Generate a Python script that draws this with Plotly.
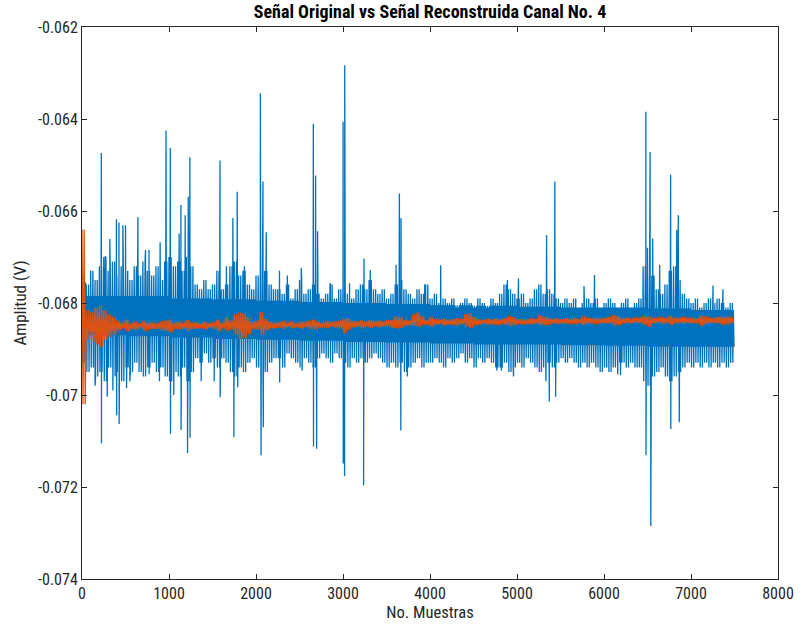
import plotly.graph_objects as go

# ---------------------------------------------------------------------------
# Channel 4: original signal vs reconstructed signal (volts per sample)
# Samples are grouped in blocks of 50; for each block the upper / lower
# extent of the trace is given, plus the isolated spikes of the original.
# ---------------------------------------------------------------------------
BLOCK = 50

# Original signal: upper extent of each 50-sample block
orig_hi = [
    -0.0674, -0.0676, -0.0673, -0.0675,
    -0.0672, -0.0670, -0.0673, -0.0671, -0.0674, -0.0672,
    -0.0673, -0.0675, -0.0672, -0.0674, -0.0671, -0.0673,
    -0.0674, -0.0672, -0.0675, -0.0671,
    -0.0670, -0.0672, -0.0671, -0.0673, -0.0670, -0.0672,
    -0.0676, -0.0677, -0.0675, -0.0677, -0.0676, -0.0673, -0.0677, -0.0676,
    -0.0672, -0.0671, -0.0674, -0.0673, -0.0676,
    -0.0677, -0.0674, -0.0672, -0.0673, -0.0676, -0.0677,
    -0.0677, -0.0678, -0.0676, -0.0679, -0.0677, -0.0675, -0.0678,
    -0.0677, -0.0676, -0.0678, -0.0679,
    -0.0678, -0.0676, -0.0679, -0.0677,
    -0.0676, -0.0678, -0.0679, -0.0677,
    -0.0676, -0.0677, -0.0675, -0.0677,
    -0.0678, -0.0677, -0.0679, -0.0678,
    -0.0676, -0.0675, -0.0677, -0.0678,
    -0.0679, -0.0677, -0.0678, -0.0676,
    -0.0679, -0.0678, -0.0680, -0.0679,
    -0.0680, -0.0679, -0.0681, -0.0680,
    -0.0679, -0.0680, -0.0681, -0.0679,
    -0.0680, -0.0681, -0.0679, -0.0680,
    -0.0678, -0.0676, -0.0677, -0.0678,
    -0.0679, -0.0678, -0.0680, -0.0679,
    -0.0677, -0.0676, -0.0678, -0.0677,
    -0.0678, -0.0679, -0.0680, -0.0679,
    -0.0680, -0.0679, -0.0681, -0.0680,
    -0.0679, -0.0680, -0.0679, -0.0681,
    -0.0680, -0.0679, -0.0680, -0.0681,
    -0.0680, -0.0679, -0.0681, -0.0680,
    -0.0679, -0.0672, -0.0670, -0.0674,
    -0.0677, -0.0678, -0.0676, -0.0673,
    -0.0672, -0.0675, -0.0678, -0.0679,
    -0.0680, -0.0679, -0.0681, -0.0680,
    -0.0679, -0.0680, -0.0679, -0.0680, -0.0681, -0.0680,
]

# Original signal: lower extent of each 50-sample block
orig_lo = [
    -0.0693, -0.0695, -0.0694, -0.0696,
    -0.0695, -0.0697, -0.0694, -0.0696, -0.0695, -0.0697,
    -0.0694, -0.0695, -0.0693, -0.0695, -0.0696, -0.0694,
    -0.0693, -0.0695, -0.0694, -0.0696,
    -0.0697, -0.0695, -0.0696, -0.0694, -0.0697, -0.0695,
    -0.0692, -0.0693, -0.0691, -0.0693, -0.0692, -0.0694, -0.0692, -0.0693,
    -0.0695, -0.0696, -0.0694, -0.0695, -0.0693,
    -0.0692, -0.0694, -0.0696, -0.0695, -0.0693, -0.0692,
    -0.0692, -0.0694, -0.0691, -0.0692, -0.0693, -0.0694, -0.0692,
    -0.0693, -0.0694, -0.0692, -0.0691,
    -0.0692, -0.0693, -0.0691, -0.0692,
    -0.0693, -0.0694, -0.0692, -0.0693,
    -0.0692, -0.0693, -0.0692, -0.0691,
    -0.0692, -0.0693, -0.0694, -0.0693,
    -0.0694, -0.0693, -0.0695, -0.0694,
    -0.0693, -0.0692, -0.0694, -0.0693,
    -0.0693, -0.0692, -0.0693, -0.0694,
    -0.0692, -0.0693, -0.0692, -0.0691,
    -0.0693, -0.0692, -0.0694, -0.0692,
    -0.0693, -0.0692, -0.0693, -0.0694,
    -0.0694, -0.0693, -0.0695, -0.0694,
    -0.0693, -0.0694, -0.0692, -0.0693,
    -0.0694, -0.0695, -0.0694, -0.0693,
    -0.0694, -0.0693, -0.0692, -0.0693,
    -0.0692, -0.0693, -0.0694, -0.0693,
    -0.0694, -0.0693, -0.0694, -0.0695,
    -0.0694, -0.0695, -0.0694, -0.0693,
    -0.0693, -0.0694, -0.0693, -0.0694,
    -0.0694, -0.0697, -0.0698, -0.0696,
    -0.0695, -0.0694, -0.0696, -0.0697,
    -0.0696, -0.0695, -0.0694, -0.0693,
    -0.0694, -0.0693, -0.0694, -0.0693,
    -0.0694, -0.0693, -0.0694, -0.0693, -0.0694, -0.0693,
]

# Dense core of the original signal, one pair per 500 samples
core_hi = [-0.06785, -0.06785, -0.06790, -0.06792, -0.06795, -0.06798, -0.06800,
           -0.06802, -0.06805, -0.06806, -0.06808, -0.06810, -0.06810, -0.06812,
           -0.06815]
core_lo = [-0.06870, -0.06872, -0.06875, -0.06878, -0.06880, -0.06882, -0.06885,
           -0.06886, -0.06888, -0.06890, -0.06890, -0.06892, -0.06893, -0.06895,
           -0.06895]
CORE_BLOCK = 500

# Isolated spikes of the original signal
spike_at = [
    40, 150, 222, 224, 268, 290, 320, 355, 396, 398,
    425, 427, 470, 500, 512, 550, 643, 730, 770, 772,
    890, 898, 966, 1015, 1017, 1055, 1117, 1137, 1139, 1186,
    1213, 1221, 1240, 1242, 1370, 1520, 1586, 1588, 1660, 1734,
    1746, 1784, 1790, 1867, 2050, 2058, 2080, 2084, 2118, 2270,
    2272, 2360, 2520, 2530, 2659, 2661, 2685, 2697, 2708, 2855,
    3001, 3003, 3018, 3020, 3075, 3237, 3241, 3313, 3610, 3648,
    3665, 3667, 3740, 3940, 4123, 4768, 4820, 4890, 4960, 5017,
    5333, 5340, 5371, 5435, 5444, 5770, 5891, 6158, 6190, 6481,
    6483, 6500, 6530, 6538, 6560, 6640, 6766, 6768, 6836, 6854,
    6865, 7253, 7367,
]
spike_val = [
    -0.06755, -0.06980, -0.06474, -0.07105, -0.06698, -0.07004, -0.06661, -0.06990, -0.06618, -0.07044,
    -0.06625, -0.07063, -0.06631, -0.06631, -0.06985, -0.06970, -0.06613, -0.06685, -0.06685, -0.06955,
    -0.06970, -0.06668, -0.06425, -0.06463, -0.07084, -0.07000, -0.06649, -0.06587, -0.07076, -0.06609,
    -0.07126, -0.06569, -0.06483, -0.07093, -0.06970, -0.06970, -0.06490, -0.07005, -0.06720, -0.06615,
    -0.07092, -0.06558, -0.06983, -0.06720, -0.06344, -0.07131, -0.06536, -0.07070, -0.06646, -0.06730,
    -0.06973, -0.06740, -0.06724, -0.06947, -0.06411, -0.07112, -0.06523, -0.07117, -0.06644, -0.06757,
    -0.06406, -0.07149, -0.07176, -0.06283, -0.06757, -0.07196, -0.06703, -0.06728, -0.06717, -0.06562,
    -0.07077, -0.06616, -0.06960, -0.06759, -0.06718, -0.06947, -0.06947, -0.06750, -0.06960, -0.06747,
    -0.06970, -0.06652, -0.07014, -0.06536, -0.07004, -0.06763, -0.06739, -0.06955, -0.06957, -0.06384,
    -0.07131, -0.06680, -0.06472, -0.07285, -0.06660, -0.06717, -0.06521, -0.07074, -0.06641, -0.06609,
    -0.07059, -0.06762, -0.06770,
]

# Reconstructed signal: upper / lower extent of each 50-sample block
recon_hi = [
    -0.06640, -0.06815, -0.06820, -0.06810, -0.06805, -0.06815, -0.06825, -0.06830,
    -0.06838, -0.06842, -0.06836, -0.06843, -0.06840, -0.06844, -0.06839, -0.06842,
    -0.06841, -0.06844, -0.06840, -0.06838, -0.06836, -0.06842, -0.06840, -0.06843,
    -0.06837, -0.06842, -0.06841, -0.06843, -0.06840, -0.06844, -0.06841, -0.06836,
    -0.06842, -0.06830, -0.06838, -0.06825, -0.06821, -0.06823, -0.06830, -0.06840,
    -0.06838, -0.06820, -0.06835, -0.06840, -0.06842, -0.06841, -0.06839, -0.06842,
    -0.06840, -0.06843, -0.06840, -0.06841, -0.06838, -0.06836, -0.06840, -0.06842,
    -0.06839, -0.06841, -0.06840, -0.06838, -0.06834, -0.06832, -0.06839, -0.06840,
    -0.06838, -0.06840, -0.06837, -0.06839, -0.06838, -0.06840, -0.06837, -0.06836,
    -0.06828, -0.06830, -0.06836, -0.06838, -0.06825, -0.06820, -0.06828, -0.06836,
    -0.06830, -0.06835, -0.06836, -0.06834, -0.06836, -0.06835, -0.06833, -0.06835,
    -0.06824, -0.06822, -0.06830, -0.06835, -0.06836, -0.06834, -0.06835, -0.06833,
    -0.06834, -0.06832, -0.06828, -0.06830, -0.06835, -0.06834, -0.06835, -0.06833,
    -0.06834, -0.06826, -0.06829, -0.06830, -0.06834, -0.06833, -0.06835, -0.06833,
    -0.06834, -0.06832, -0.06834, -0.06828, -0.06832, -0.06833, -0.06831, -0.06833,
    -0.06832, -0.06830, -0.06826, -0.06828, -0.06832, -0.06831, -0.06833, -0.06832,
    -0.06831, -0.06827, -0.06828, -0.06831, -0.06832, -0.06830, -0.06832, -0.06827,
    -0.06831, -0.06832, -0.06830, -0.06832, -0.06831, -0.06833, -0.06826, -0.06829,
    -0.06831, -0.06832, -0.06830, -0.06828, -0.06829, -0.06830,
]
recon_lo = [
    -0.07020, -0.06880, -0.06885, -0.06890, -0.06895, -0.06880, -0.06875, -0.06870,
    -0.06860, -0.06856, -0.06862, -0.06857, -0.06859, -0.06855, -0.06861, -0.06858,
    -0.06857, -0.06856, -0.06860, -0.06862, -0.06864, -0.06857, -0.06858, -0.06856,
    -0.06862, -0.06857, -0.06856, -0.06855, -0.06858, -0.06854, -0.06857, -0.06862,
    -0.06856, -0.06860, -0.06858, -0.06870, -0.06879, -0.06876, -0.06868, -0.06857,
    -0.06858, -0.06870, -0.06860, -0.06856, -0.06855, -0.06854, -0.06856, -0.06853,
    -0.06855, -0.06853, -0.06856, -0.06853, -0.06856, -0.06858, -0.06854, -0.06853,
    -0.06855, -0.06852, -0.06854, -0.06856, -0.06866, -0.06858, -0.06853, -0.06852,
    -0.06855, -0.06852, -0.06854, -0.06851, -0.06853, -0.06851, -0.06852, -0.06854,
    -0.06856, -0.06854, -0.06850, -0.06849, -0.06850, -0.06852, -0.06848, -0.06848,
    -0.06852, -0.06848, -0.06847, -0.06849, -0.06847, -0.06848, -0.06849, -0.06847,
    -0.06852, -0.06855, -0.06849, -0.06847, -0.06846, -0.06848, -0.06847, -0.06848,
    -0.06846, -0.06848, -0.06850, -0.06849, -0.06846, -0.06847, -0.06846, -0.06847,
    -0.06846, -0.06849, -0.06848, -0.06847, -0.06845, -0.06846, -0.06845, -0.06846,
    -0.06845, -0.06846, -0.06845, -0.06848, -0.06846, -0.06845, -0.06846, -0.06844,
    -0.06845, -0.06846, -0.06850, -0.06848, -0.06845, -0.06844, -0.06845, -0.06844,
    -0.06845, -0.06848, -0.06852, -0.06845, -0.06844, -0.06846, -0.06844, -0.06848,
    -0.06845, -0.06844, -0.06846, -0.06844, -0.06845, -0.06844, -0.06850, -0.06847,
    -0.06845, -0.06844, -0.06845, -0.06847, -0.06846, -0.06845,
]

# Axis labels
x_ticks = [0, 1000, 2000, 3000, 4000, 5000, 6000, 7000, 8000]
y_ticks = [-0.074, -0.072, -0.070, -0.068, -0.066, -0.064, -0.062]
y_tick_text = ["-0.074", "-0.072", "-0.07", "-0.068", "-0.066", "-0.064", "-0.062"]

BLUE = "#0072BD"
ORANGE = "#D95319"
AXIS = "#262626"

# --- original trace: each half block runs extreme-high -> extreme-low ->
#     core top -> core bottom, then the isolated spikes are merged in
pts = []
for i, (hi, lo) in enumerate(zip(orig_hi, orig_lo)):
    k = min(i * BLOCK // CORE_BLOCK, len(core_hi) - 1)
    s0 = i * BLOCK
    pts += [(s0 + 0, hi), (s0 + 6, lo), (s0 + 12, core_hi[k]), (s0 + 19, core_lo[k]),
            (s0 + 25, hi), (s0 + 31, lo), (s0 + 37, core_hi[k]), (s0 + 44, core_lo[k])]
pts += list(zip(spike_at, spike_val))
pts.sort(key=lambda p: p[0])
orig_x = [p[0] for p in pts]
orig_y = [p[1] for p in pts]

# --- reconstructed trace
rec_x, rec_y = [], []
for i, (hi, lo) in enumerate(zip(recon_hi, recon_lo)):
    s0 = i * BLOCK
    rec_x += [s0, s0 + 12, s0 + 25, s0 + 37]
    rec_y += [hi, lo, hi, lo]

fig = go.Figure()
fig.add_trace(go.Scatter(x=orig_x, y=orig_y, mode="lines",
                         line=dict(color=BLUE, width=1.3, simplify=False),
                         name="Original", hoverinfo="skip"))
fig.add_trace(go.Scatter(x=rec_x, y=rec_y, mode="lines",
                         line=dict(color=ORANGE, width=1.3, simplify=False),
                         name="Reconstruida", hoverinfo="skip"))

FONT = "Liberation Sans Narrow, Arial Narrow, Roboto Condensed, Roboto, sans-serif"

axis_common = dict(
    showline=True, linecolor=AXIS, linewidth=1, mirror="allticks",
    ticks="inside", ticklen=5, tickcolor=AXIS, tickwidth=1,
    showgrid=False, zeroline=False,
    tickfont=dict(family=FONT, size=16, color=AXIS),
)

fig.update_layout(
    width=806, height=629,
    margin=dict(l=82, r=23, t=27, b=47),
    plot_bgcolor="white", paper_bgcolor="white",
    showlegend=False,
    font=dict(family=FONT, size=15, color=AXIS),
    title=dict(text="<b>Señal Original vs Señal Reconstruida Canal No. 4</b>",
               x=0.5, xref="paper", xanchor="center",
               y=1 - 12 / 629, yref="container", yanchor="middle",
               font=dict(family=FONT, size=18, color="black")),
    xaxis=dict(range=[0, 8000], tickvals=x_ticks,
               ticktext=[str(t) for t in x_ticks],
               title=dict(text="No. Muestras", standoff=2,
                          font=dict(family=FONT, size=16.5, color=AXIS)),
               **axis_common),
    yaxis=dict(range=[-0.074, -0.062], tickvals=y_ticks, ticktext=y_tick_text,
               **axis_common),
    annotations=[dict(text="Amplitud (V)", textangle=-90,
                      xref="paper", yref="paper", x=(20 - 82) / 701, y=0.5,
                      xanchor="center", yanchor="middle", showarrow=False,
                      font=dict(family=FONT, size=17, color=AXIS))],
)

fig.write_html("out.html")
